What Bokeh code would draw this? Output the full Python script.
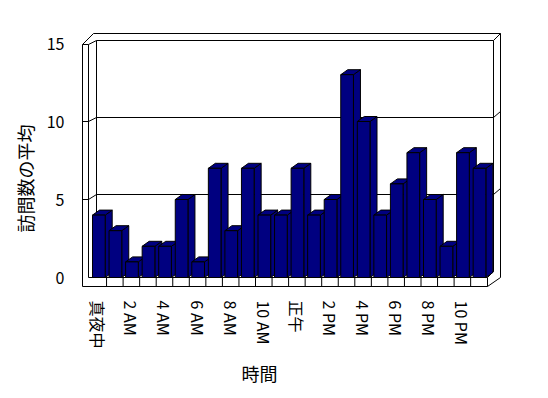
from math import pi
from bokeh.plotting import figure
from bokeh.models import Range1d, FixedTicker, Title
from bokeh.embed import file_html
from bokeh.resources import INLINE

# ---------------- data ----------------
hours = ["真夜中", "1 AM", "2 AM", "3 AM", "4 AM", "5 AM", "6 AM", "7 AM", "8 AM", "9 AM",
         "10 AM", "11 AM", "正午", "1 PM", "2 PM", "3 PM", "4 PM", "5 PM", "6 PM", "7 PM",
         "8 PM", "9 PM", "10 PM", "11 PM"]
visits = [4, 3, 1, 2, 2, 5, 1, 7, 3, 7, 4, 4, 7, 4, 5, 13, 10, 4, 6, 8, 5, 2, 8, 7]
y_ticks = [0, 5, 10, 15]
grid_values = [5, 10]
y_title = "訪問数の平均"
x_title = "時間"

# ---------------- layout / projection constants ----------------
FONT = "Noto Sans CJK JP"
FRAME_L, FRAME_T, FW, FH = 78, 28, 426, 260      # frame in page pixels
CAT0_SX, ZERO_SY = 89.5, 277.0                   # page px of category 0 edge / value 0
PXX, PXY = 16.55, 15.6                           # px per category / per value unit

def X(sx):
    return (sx - CAT0_SX) / PXX

def Y(sy):
    return (ZERO_SY - sy) / PXY

x0 = X(FRAME_L); x1 = x0 + FW / PXX
y0 = Y(FRAME_T + FH); y1 = y0 + FH / PXY

BAR_OFF = 2.5 / PXX
BAR_W = 12.7 / PXX
DX = 7.0 / PXX
DY = 5.0 / PXY
BACK_SCALE, BACK_OFF = 15.4 / PXY, 6.0 / PXY   # back wall plane

p = figure(frame_width=FW, frame_height=FH, x_range=Range1d(x0, x1), y_range=Range1d(y0, y1),
           output_backend="svg", toolbar_location=None,
           min_border_left=FRAME_L, min_border_top=FRAME_T,
           min_border_right=40, min_border_bottom=100)
p.xgrid.visible = False
p.ygrid.visible = False
p.outline_line_color = None
p.background_fill_color = "white"
p.border_fill_color = "white"

# ---------------- walls / floor ----------------
lw = dict(line_color="black", line_width=1)
sil_x = [X(82), X(82), X(93), X(500), X(500), X(487)]
sil_y = [Y(286), Y(44), Y(33), Y(33), Y(277), Y(286)]
p.patch(sil_x, sil_y, fill_color="white", **lw)
# back wall front face
p.patch([X(96), X(96), X(493), X(493)], [Y(271), Y(40), Y(40), Y(271)], fill_color="white", **lw)
# left wall inner edges
p.line([X(88), X(88)], [Y(277), Y(44)], **lw)
p.line([X(82), X(88), X(96)], [Y(44), Y(44), Y(40)], **lw)
p.line([X(493), X(500)], [Y(40), Y(33)], **lw)
# floor
p.line([X(88), X(487)], [Y(277), Y(277)], **lw)
p.line([X(487), X(487)], [Y(277), Y(286)], **lw)
p.line([X(487), X(493)], [Y(277), Y(271)], **lw)

# gridlines wrapping around the walls
for v in grid_values:
    fy = v
    by = BACK_OFF + v * BACK_SCALE
    p.line([X(82), X(88), X(96), X(493), X(500)],
           [fy, fy, by, by, by + 6.0 / PXY], **lw)

# floor separators between categories
for k in range(1, len(hours)):
    p.line([k, k], [Y(277), Y(286)], **lw)

# ---------------- bars ----------------
lefts = [i + BAR_OFF for i in range(len(visits))]
rights = [l + BAR_W for l in lefts]
side_xs = [[r, r, r + DX, r + DX] for r in rights]
side_ys = [[0, v, v + DY, DY] for v in visits]
top_xs = [[l, r, r + DX, l + DX] for l, r in zip(lefts, rights)]
top_ys = [[v, v, v + DY, v + DY] for v in visits]
navy = "#000080"
p.patches(side_xs, side_ys, fill_color=navy, **lw)
p.patches(top_xs, top_ys, fill_color=navy, **lw)
p.quad(left=lefts, right=rights, bottom=0, top=visits, fill_color=navy, **lw)

# ---------------- axes ----------------
p.yaxis.ticker = FixedTicker(ticks=y_ticks)
p.yaxis.axis_line_color = None
p.yaxis.major_tick_line_color = None
p.yaxis.minor_tick_line_color = None
p.yaxis.major_label_standoff = 8
p.yaxis.major_label_text_font = FONT
p.yaxis.major_label_text_font_size = "16px"
p.yaxis.major_label_text_color = "black"

label_pos = [i + 0.5 for i in range(0, len(hours), 2)]
p.xaxis.ticker = FixedTicker(ticks=label_pos)
p.xaxis.major_label_overrides = {i + 0.5: hours[i] for i in range(0, len(hours), 2)}
p.xaxis.major_label_orientation = "vertical"
p.xaxis.axis_line_color = None
p.xaxis.major_tick_line_color = None
p.xaxis.minor_tick_line_color = None
p.xaxis.major_label_standoff = 6
p.xaxis.major_label_text_font = FONT
p.xaxis.major_label_text_font_size = "16px"
p.xaxis.major_label_text_color = "black"

p.add_layout(Title(text=y_title, align="left", offset=56, standoff=12, text_font=FONT,
                   text_font_size="18px", text_font_style="normal", text_color="black"), "left")
p.add_layout(Title(text=x_title, align="left", offset=163, standoff=12, text_font=FONT,
                   text_font_size="18px", text_font_style="normal", text_color="black"), "below")

open("out.html", "w").write(file_html(p, INLINE))
